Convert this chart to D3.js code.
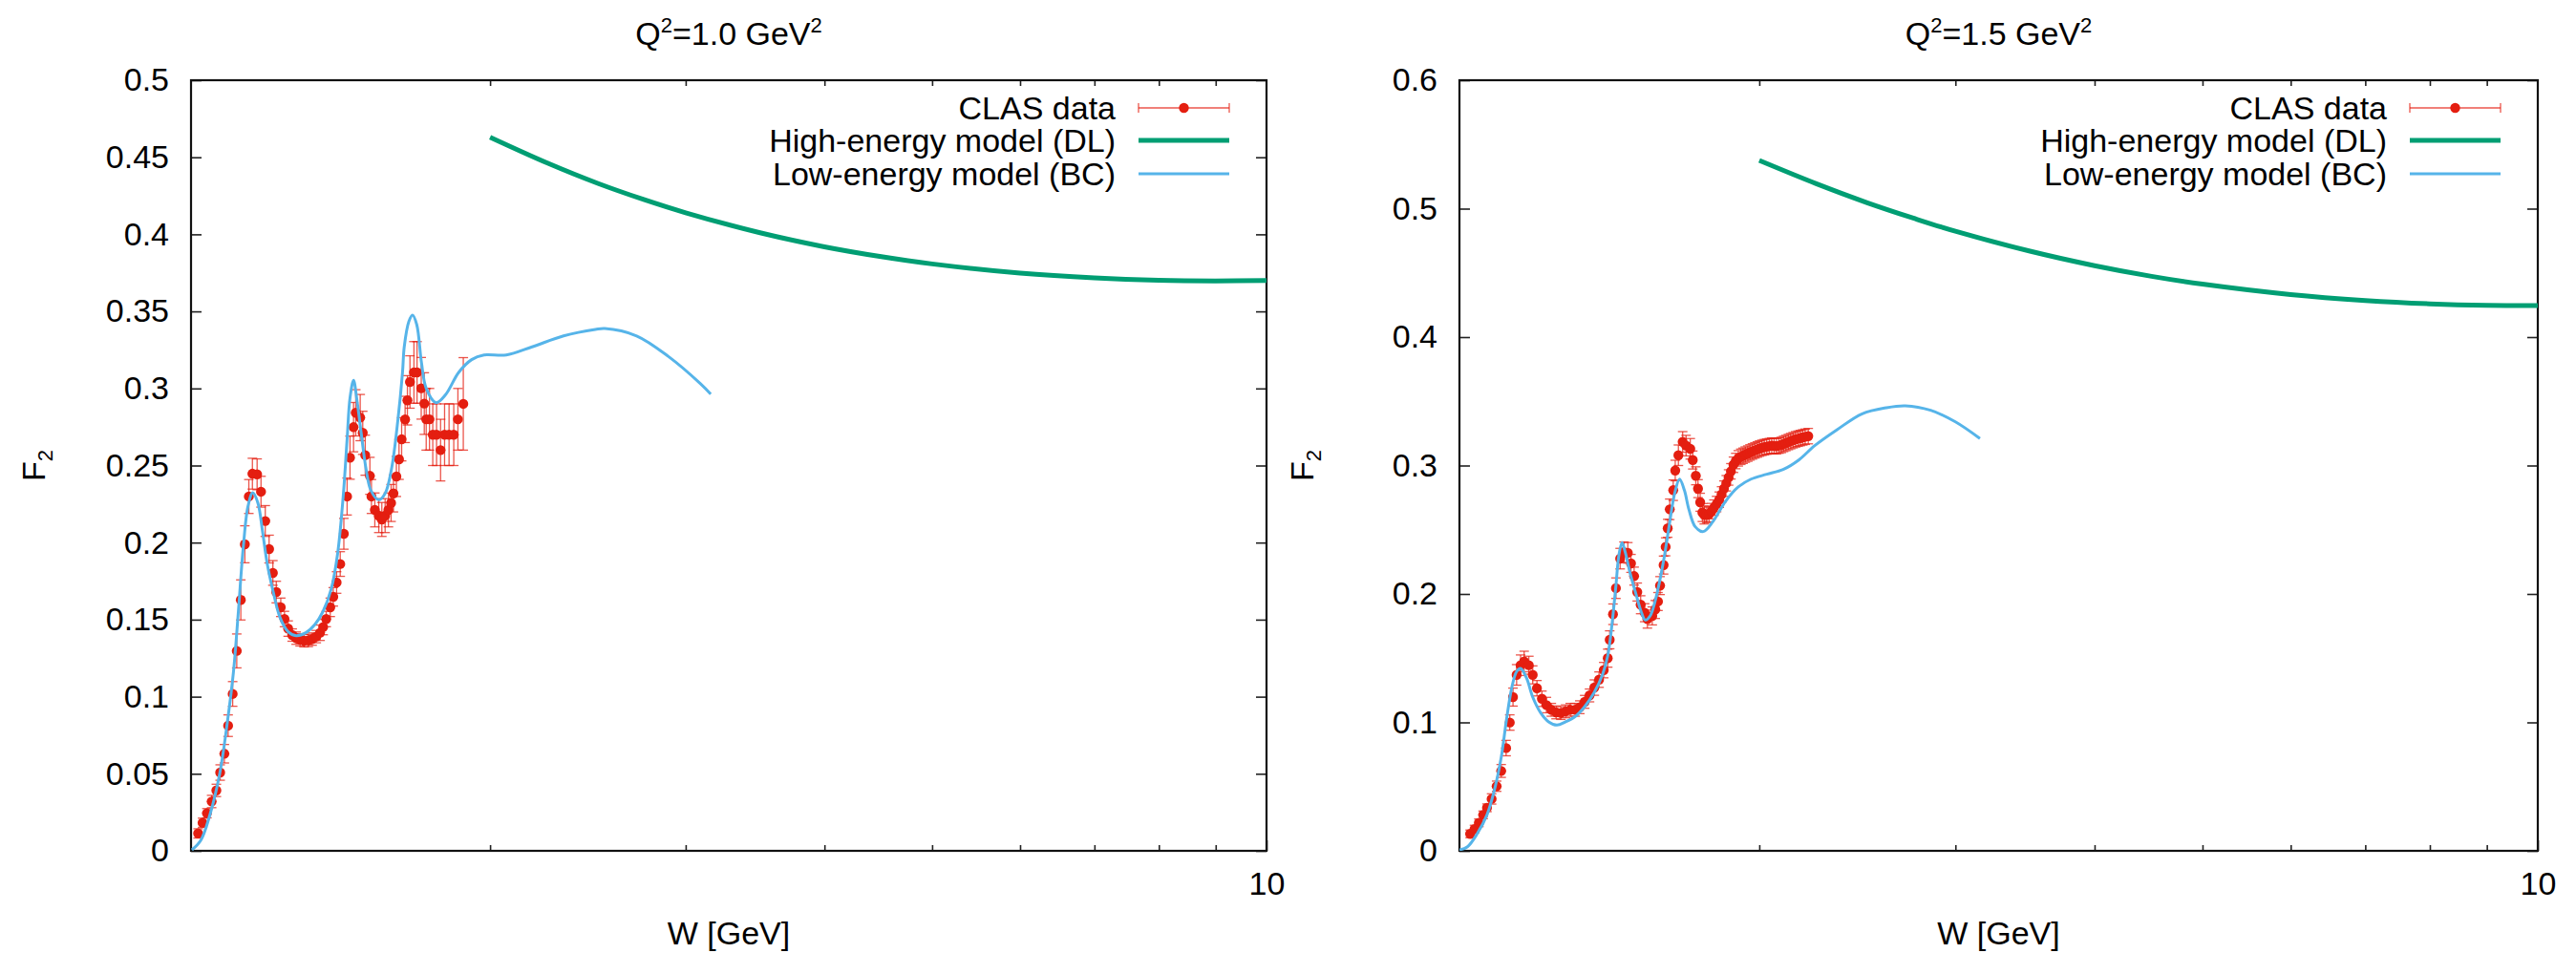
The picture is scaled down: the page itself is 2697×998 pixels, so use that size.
<!DOCTYPE html>
<html><head><meta charset="utf-8">
<script src="https://cdn.jsdelivr.net/npm/d3@7"></script>
<style>
body{margin:0;background:#fff}
svg{display:block}
text{font-family:"Liberation Sans",Arial,Helvetica,sans-serif;fill:#000}
</style>
</head><body>
<svg id="chart" width="2697" height="998"></svg>
<script>
// ---------------- Data: Q^2 = 1.0 GeV^2 ----------------
const clas1W = [1.092,1.102,1.112,1.123,1.134,1.143,1.153,1.162,1.173,1.183,1.193,1.203,1.213,1.222,1.234,1.244,1.255,1.265,1.275,1.284,1.296,1.306,1.316,1.327,1.338,1.349,1.360,1.372,1.383,1.395,1.406,1.415,1.424,1.436,1.445,1.455,1.466,1.477,1.487,1.496,1.507,1.514,1.528,1.536,1.544,1.559,1.564,1.575,1.588,1.598,1.609,1.620,1.629,1.637,1.647,1.656,1.665,1.677,1.685,1.694,1.708,1.719,1.734,1.745,1.752,1.764,1.776,1.790,1.805,1.820,1.837,1.855,1.871,1.892];
const clas1F2 = [0.0113,0.0182,0.0244,0.032,0.0392,0.0508,0.063,0.0812,0.1018,0.1297,0.1628,0.1989,0.2299,0.2447,0.2443,0.233,0.214,0.1958,0.1803,0.1679,0.158,0.1504,0.1442,0.140,0.138,0.1369,0.1363,0.1365,0.1374,0.139,0.1415,0.1452,0.1504,0.158,0.1648,0.1741,0.1861,0.2057,0.2299,0.2551,0.2749,0.2842,0.2811,0.2712,0.2567,0.2433,0.2299,0.2212,0.2175,0.215,0.2175,0.2212,0.2257,0.2319,0.2429,0.254,0.267,0.2799,0.2923,0.3042,0.3104,0.3104,0.3001,0.2902,0.28,0.28,0.27,0.27,0.26,0.27,0.27,0.27,0.28,0.29];
const clas1Err = [0.003,0.003,0.003,0.004,0.004,0.005,0.006,0.007,0.008,0.011,0.013,0.012,0.011,0.010,0.010,0.010,0.010,0.009,0.008,0.007,0.006,0.005,0.005,0.004,0.004,0.004,0.004,0.004,0.004,0.004,0.005,0.005,0.005,0.006,0.006,0.007,0.008,0.010,0.012,0.014,0.016,0.015,0.015,0.014,0.013,0.012,0.011,0.011,0.011,0.011,0.011,0.011,0.012,0.012,0.013,0.013,0.014,0.015,0.016,0.017,0.020,0.020,0.020,0.020,0.020,0.020,0.020,0.020,0.020,0.020,0.020,0.020,0.020,0.030];
const bc1W = [1.078,1.098,1.119,1.142,1.160,1.175,1.187,1.199,1.211,1.223,1.236,1.248,1.260,1.276,1.294,1.316,1.338,1.365,1.391,1.415,1.439,1.458,1.475,1.487,1.496,1.507,1.518,1.531,1.546,1.562,1.588,1.609,1.631,1.652,1.668,1.674,1.690,1.703,1.718,1.735,1.752,1.788,1.824,1.874,1.925,1.975,2.068,2.182,2.329,2.488,2.537,2.710,2.895,3.092,3.160];
const bc1F2 = [0.0006,0.0068,0.0234,0.0502,0.0832,0.1163,0.1555,0.1968,0.2237,0.2323,0.2257,0.2071,0.1865,0.1679,0.1514,0.1421,0.1396,0.1415,0.1468,0.1555,0.170,0.1927,0.2299,0.267,0.2939,0.3053,0.2918,0.2712,0.2485,0.234,0.2278,0.2319,0.2485,0.2794,0.3104,0.327,0.3434,0.3476,0.3414,0.3166,0.3001,0.2908,0.296,0.3104,0.3187,0.3217,0.3217,0.327,0.3341,0.3383,0.3389,0.3341,0.3207,0.3032,0.2963];
const dl1W = [2,2.25,2.5,2.75,3,3.5,4,4.5,5,6,7,8,9,10];
const dl1F2 = [0.4630,0.4464,0.4331,0.4226,0.4140,0.4010,0.3919,0.3855,0.3808,0.3748,0.3717,0.3702,0.3698,0.3700];

// ---------------- Data: Q^2 = 1.5 GeV^2 ----------------
const clas2W = [1.100,1.110,1.120,1.130,1.139,1.150,1.162,1.173,1.185,1.194,1.202,1.211,1.221,1.230,1.242,1.252,1.263,1.276,1.288,1.301,1.314,1.327,1.340,1.353,1.367,1.380,1.394,1.408,1.422,1.436,1.450,1.462,1.468,1.478,1.487,1.500,1.512,1.524,1.534,1.544,1.554,1.565,1.578,1.587,1.603,1.613,1.622,1.629,1.641,1.648,1.655,1.662,1.674,1.681,1.692,1.707,1.719,1.734,1.743,1.754,1.762,1.770,1.778,1.785,1.794,1.803,1.812,1.821,1.831,1.841,1.850,1.859,1.868,1.877,1.886,1.896,1.905,1.915,1.925,1.934,1.943,1.953,1.962,1.972,1.982,1.992,2.001,2.011,2.021,2.031,2.042,2.052,2.062,2.072,2.083,2.093,2.103,2.113,2.124,2.134,2.145,2.156,2.167,2.177,2.188,2.199,2.213];
const clas2F2 = [0.0132,0.0169,0.0218,0.028,0.0335,0.0404,0.0503,0.0622,0.080,0.0999,0.1197,0.137,0.1445,0.1474,0.1445,0.137,0.1266,0.1184,0.1135,0.1098,0.1078,0.1073,0.1086,0.1098,0.1098,0.1118,0.116,0.121,0.1271,0.1333,0.1407,0.150,0.1643,0.1842,0.2045,0.2275,0.2325,0.232,0.2238,0.2139,0.2015,0.1916,0.1854,0.1804,0.1829,0.1879,0.1941,0.2065,0.2225,0.2367,0.2511,0.2659,0.2808,0.2961,0.308,0.3184,0.3155,0.313,0.3043,0.292,0.282,0.2714,0.2634,0.2615,0.2615,0.2622,0.2645,0.2672,0.270,0.2734,0.2775,0.282,0.2862,0.2907,0.2955,0.3006,0.3035,0.3056,0.3068,0.3076,0.3085,0.3093,0.3102,0.311,0.3118,0.3125,0.3132,0.3138,0.3143,0.3147,0.3151,0.3155,0.3152,0.315,0.3155,0.316,0.3168,0.3175,0.3183,0.319,0.3197,0.3204,0.3209,0.3214,0.3219,0.3224,0.3229];
const clas2Err = [0.003,0.003,0.003,0.003,0.003,0.004,0.004,0.005,0.006,0.006,0.007,0.008,0.008,0.008,0.007,0.007,0.006,0.006,0.006,0.005,0.005,0.005,0.005,0.005,0.005,0.005,0.005,0.005,0.006,0.006,0.006,0.007,0.007,0.008,0.008,0.008,0.008,0.008,0.007,0.007,0.007,0.007,0.007,0.007,0.007,0.007,0.007,0.007,0.007,0.007,0.007,0.008,0.008,0.008,0.008,0.008,0.008,0.008,0.007,0.007,0.007,0.007,0.007,0.007,0.006,0.006,0.006,0.006,0.006,0.006,0.006,0.006,0.006,0.006,0.006,0.006,0.006,0.006,0.006,0.006,0.006,0.006,0.006,0.006,0.006,0.006,0.006,0.006,0.006,0.006,0.006,0.006,0.006,0.006,0.006,0.006,0.006,0.006,0.006,0.006,0.006,0.006,0.006,0.006,0.006,0.006,0.006];
const bc2W = [1.076,1.094,1.116,1.139,1.157,1.173,1.186,1.199,1.211,1.221,1.236,1.252,1.273,1.294,1.316,1.340,1.368,1.394,1.422,1.446,1.462,1.474,1.487,1.496,1.506,1.516,1.531,1.551,1.566,1.580,1.596,1.612,1.629,1.645,1.662,1.679,1.696,1.713,1.729,1.752,1.781,1.816,1.865,1.915,1.966,2.031,2.101,2.170,2.243,2.349,2.474,2.600,2.705,2.850,3.000,3.156];
const bc2F2 = [0.0007,0.0032,0.0132,0.028,0.0478,0.0726,0.1024,0.1271,0.1396,0.142,0.1346,0.1197,0.1073,0.1004,0.0979,0.1004,0.1048,0.1123,0.1234,0.137,0.1519,0.1742,0.2065,0.230,0.2399,0.2325,0.2164,0.199,0.1866,0.1797,0.1829,0.194,0.2114,0.2312,0.256,0.2783,0.2894,0.2808,0.2659,0.2523,0.2486,0.256,0.2721,0.2833,0.2894,0.2932,0.2969,0.3043,0.3155,0.3279,0.3403,0.345,0.3465,0.343,0.334,0.321];
const dl2W = [2,2.25,2.5,2.75,3,3.5,4,4.5,5,6,7,8,9,10];
const dl2F2 = [0.5375,0.5194,0.5046,0.4926,0.4824,0.4669,0.4556,0.4473,0.4412,0.4331,0.4285,0.4259,0.4247,0.4245];

const yTicks1 = [0,0.05,0.1,0.15,0.2,0.25,0.3,0.35,0.4,0.45,0.5];
const yTicks2 = [0,0.1,0.2,0.3,0.4,0.5,0.6];
const xMinorTicks = [2,3,4,5,6,7,8,9];
const xMajorTicks = [10];
const legendLabels = ["CLAS data","High-energy model (DL)","Low-energy model (BC)"];

const RED = "#e41e10", GREEN = "#009e73", BLUE = "#56b4e9";
const svg = d3.select("#chart");

function panel(cfg) {
  const {left, right, top, bottom, ymax, yTicks, yFmt, title, cW, cF, cE, bW, bF, dW, dF} = cfg;
  const x = d3.scaleLog().domain([1.076, 10]).range([left, right]);
  const y = d3.scaleLinear().domain([0, ymax]).range([bottom, top]);
  const g = svg.append("g");

  // title
  const t = g.append("text").attr("x", (left+right)/2).attr("y", 47).attr("text-anchor","middle").style("font-size","34px");
  t.append("tspan").text("Q");
  t.append("tspan").text("2").attr("dy",-13).style("font-size","22px");
  t.append("tspan").text("=" + title + " GeV").attr("dy",13);
  t.append("tspan").text("2").attr("dy",-13).style("font-size","22px");

  // axes (ticks inward, mirrored)
  const axStyle = sel => { sel.select(".domain").remove(); sel.selectAll("line").attr("stroke","#222").attr("stroke-width",1.6); sel.selectAll("text").style("font-size","34px").style("font-family","'Liberation Sans',Arial,sans-serif"); };
  g.append("g").attr("transform",`translate(0,${bottom})`)
    .call(d3.axisBottom(x).tickValues(xMinorTicks).tickSizeInner(-6).tickSizeOuter(0).tickFormat(""))
    .call(axStyle);
  g.append("g").attr("transform",`translate(0,${top})`)
    .call(d3.axisTop(x).tickValues(xMinorTicks).tickSizeInner(-6).tickSizeOuter(0).tickFormat(""))
    .call(axStyle);
  g.append("g").attr("transform",`translate(0,${bottom})`)
    .call(d3.axisBottom(x).tickValues(xMajorTicks).tickSizeInner(-11).tickSizeOuter(0).tickPadding(22).tickFormat(d3.format("d")))
    .call(axStyle);
  g.append("g").attr("transform",`translate(${left},0)`)
    .call(d3.axisLeft(y).tickValues(yTicks).tickSizeInner(-11).tickSizeOuter(0).tickPadding(23).tickFormat(yFmt))
    .call(axStyle);
  g.append("g").attr("transform",`translate(${right},0)`)
    .call(d3.axisRight(y).tickValues(yTicks).tickSizeInner(-11).tickSizeOuter(0).tickFormat(""))
    .call(axStyle);
  g.append("rect").attr("x",left).attr("y",top).attr("width",right-left).attr("height",bottom-top)
    .attr("fill","none").attr("stroke","#111").attr("stroke-width",2.2);

  // axis labels
  g.append("text").attr("x",(left+right)/2).attr("y",989).attr("text-anchor","middle").style("font-size","34px").text("W [GeV]");
  const yl = g.append("text").attr("transform",`translate(${left-153},${(top+bottom)/2}) rotate(-90)`).attr("text-anchor","middle").style("font-size","34px");
  yl.append("tspan").text("F");
  yl.append("tspan").text("2").attr("dy",8).style("font-size","22px");

  // clip
  const clipId = "clip" + left;
  svg.append("clipPath").attr("id",clipId).append("rect").attr("x",left).attr("y",top).attr("width",right-left).attr("height",bottom-top);
  const plot = g.append("g").attr("clip-path",`url(#${clipId})`);

  const line = d3.line().x(d=>x(d[0])).y(d=>y(d[1])).curve(d3.curveCatmullRom.alpha(0.5));

  // error bars
  const pts = cW.map((w,i)=>({w, f:cF[i], e:cE[i]}));
  const eb = plot.append("g").attr("stroke",RED).attr("stroke-width",1.3).attr("stroke-opacity",0.75);
  pts.forEach(p => {
    const y1 = y(p.f - p.e), y2 = y(p.f + p.e), xx = x(p.w);
    eb.append("line").attr("x1",xx).attr("x2",xx).attr("y1",y1).attr("y2",y2);
    eb.append("line").attr("x1",xx-5).attr("x2",xx+5).attr("y1",y1).attr("y2",y1);
    eb.append("line").attr("x1",xx-5).attr("x2",xx+5).attr("y1",y2).attr("y2",y2);
  });
  plot.append("g").selectAll("circle").data(pts).join("circle")
    .attr("cx",d=>x(d.w)).attr("cy",d=>y(d.f)).attr("r",5.2).attr("fill",RED);

  // model curves
  plot.append("path").datum(dW.map((w,i)=>[w,dF[i]])).attr("d",line)
    .attr("fill","none").attr("stroke",GREEN).attr("stroke-width",5);
  plot.append("path").datum(bW.map((w,i)=>[w,bF[i]])).attr("d",line)
    .attr("fill","none").attr("stroke",BLUE).attr("stroke-width",3);

  // legend
  const lx1 = right-134, lx2 = right-39, tx = right-158;
  const rows = [113, 147, 182];
  legendLabels.forEach((lab,i)=>{
    g.append("text").attr("x",tx).attr("y",rows[i]+12).attr("text-anchor","end").style("font-size","34px").text(lab);
  });
  const lg = g.append("g");
  lg.append("line").attr("x1",lx1).attr("x2",lx2).attr("y1",rows[0]).attr("y2",rows[0]).attr("stroke",RED).attr("stroke-width",1.3).attr("stroke-opacity",0.75);
  [lx1,lx2].forEach(xx=>lg.append("line").attr("x1",xx).attr("x2",xx).attr("y1",rows[0]-5).attr("y2",rows[0]+5).attr("stroke",RED).attr("stroke-width",1.3).attr("stroke-opacity",0.75));
  lg.append("circle").attr("cx",(lx1+lx2)/2).attr("cy",rows[0]).attr("r",5.2).attr("fill",RED);
  lg.append("line").attr("x1",lx1).attr("x2",lx2).attr("y1",rows[1]).attr("y2",rows[1]).attr("stroke",GREEN).attr("stroke-width",5);
  lg.append("line").attr("x1",lx1).attr("x2",lx2).attr("y1",rows[2]).attr("y2",rows[2]).attr("stroke",BLUE).attr("stroke-width",3);
}

panel({left:200, right:1326, top:84, bottom:891, ymax:0.5, yTicks:yTicks1, yFmt:d=>d===0?"0":String(d),
  title:"1.0", cW:clas1W, cF:clas1F2, cE:clas1Err, bW:bc1W, bF:bc1F2, dW:dl1W, dF:dl1F2});
panel({left:1528, right:2657, top:84, bottom:891, ymax:0.6, yTicks:yTicks2, yFmt:d=>d===0?"0":String(d),
  title:"1.5", cW:clas2W, cF:clas2F2, cE:clas2Err, bW:bc2W, bF:bc2F2, dW:dl2W, dF:dl2F2});
</script>
</body></html>
